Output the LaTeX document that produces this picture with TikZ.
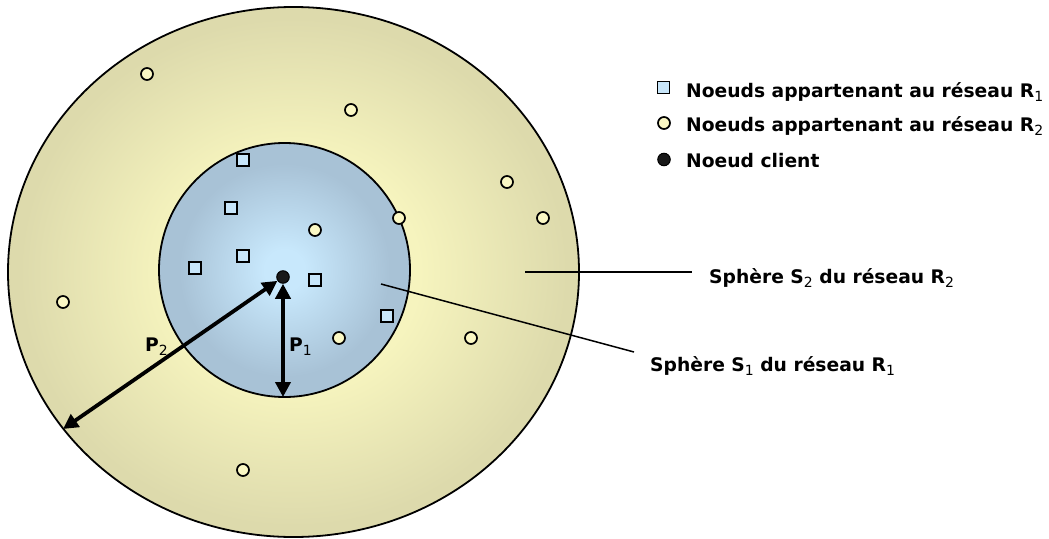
\documentclass[tikz,border=0pt]{standalone}
\usepackage{fontspec}
\setmainfont{DejaVu Sans}
\usetikzlibrary{shapes.geometric,arrows.meta}
\definecolor{sqfill}{HTML}{C8E6FA}
\definecolor{cifill}{HTML}{FBF8C4}
\definecolor{olin}{HTML}{F6F4BE}
\definecolor{olout}{HTML}{DDDAAC}
\definecolor{inin}{HTML}{C8E8FC}
\definecolor{inout}{HTML}{A8C2D6}
\pgfdeclareradialshading{outerfade}{\pgfpointorigin}{color(0bp)=(olin); color(11bp)=(olin); color(24bp)=(olout); color(50bp)=(olout)}
\pgfdeclareradialshading{innerfade}{\pgfpointorigin}{color(0bp)=(inin); color(4bp)=(inin); color(21bp)=(inout); color(50bp)=(inout)}
\newcommand{\lowidx}[1]{\raisebox{-4.5pt}{\fontsize{14pt}{15pt}\selectfont\mdseries #1}}
\tikzset{
 sphere/.style={ellipse,draw=black,line width=1.8pt,inner sep=0pt},
 outerS/.style={sphere,minimum width=571pt,minimum height=530pt,shading=outerfade},
 innerS/.style={sphere,minimum width=251pt,minimum height=254pt,shading=innerfade},
 sqnode/.style={rectangle,draw=black,line width=1.7pt,fill=sqfill,minimum size=12pt,inner sep=0pt},
 cinode/.style={circle,draw=black,line width=1.7pt,fill=cifill,minimum size=12pt,inner sep=0pt},
 clnode/.style={circle,draw=black,line width=1pt,fill=black!90,minimum size=12.5pt,inner sep=0pt},
 lbl/.style={font=\bfseries\fontsize{18.7pt}{20pt}\selectfont,text=black,inner sep=0pt,anchor=base west},
 arr/.style={line width=3.8pt,{Triangle[length=15pt,width=15pt]}-{Triangle[length=15pt,width=15pt]}},
 leader/.style={line width=1.5pt},
}
\begin{document}
\begin{tikzpicture}[x=1pt,y=-1pt]
\useasboundingbox (0,0) rectangle (1049,538);
\node[outerS] (S2) at (293.5,272) {};
\node[innerS] (S1) at (284.5,270) {};
% squares
\node[sqnode] (a1) at (243,160) {};
\node[sqnode] (a2) at (231,208) {};
\node[sqnode] (a3) at (243,256) {};
\node[sqnode] (a4) at (195,268) {};
\node[sqnode] (a5) at (315,280) {};
\node[sqnode] (a6) at (387,316) {};
% circles
\node[cinode] (b1) at (147,74) {};
\node[cinode] (b2) at (351,110) {};
\node[cinode] (b3) at (507,182) {};
\node[cinode] (b4) at (543,218) {};
\node[cinode] (b5) at (399,218) {};
\node[cinode] (b6) at (315,230) {};
\node[cinode] (b7) at (63,302) {};
\node[cinode] (b8) at (339,338) {};
\node[cinode] (b9) at (471,338) {};
\node[cinode] (b10) at (243,470) {};
% client
\node[clnode] (c) at (283,277) {};
% arrows
\coordinate (p1end) at (283,397);
\coordinate (p2end) at (63,429);
\draw[arr] (c) -- (p1end);
\draw[arr] (c) -- (p2end);
\node[lbl] (lp1) at (289,351) {P\lowidx{1}};
\node[lbl] (lp2) at (145,351) {P\lowidx{2}};
% legend
\node[sqnode] (l1) at (663.5,87.5) {};
\node[cinode] (l2) at (664,123) {};
\node[clnode] (l3) at (664,159.5) {};
\node[lbl] (t1) at (686,97) {Noeuds appartenant au réseau R\lowidx{1}};
\node[lbl] (t2) at (686,131) {Noeuds appartenant au réseau R\lowidx{2}};
\node[lbl] (t3) at (686,167) {Noeud client};
% sphere labels
\node[lbl] (t4) at (709,283) {Sphère S\lowidx{2} du réseau R\lowidx{2}};
\node[lbl] (t5) at (650,371) {Sphère S\lowidx{1} du réseau R\lowidx{1}};
\coordinate (s2a) at (525,272);
\coordinate (s2b) at (692,272);
\coordinate (s1a) at (381,284);
\coordinate (s1b) at (634,352);
\draw[leader] (s2a) -- (s2b);
\draw[leader] (s1a) -- (s1b);
\end{tikzpicture}
\end{document}
